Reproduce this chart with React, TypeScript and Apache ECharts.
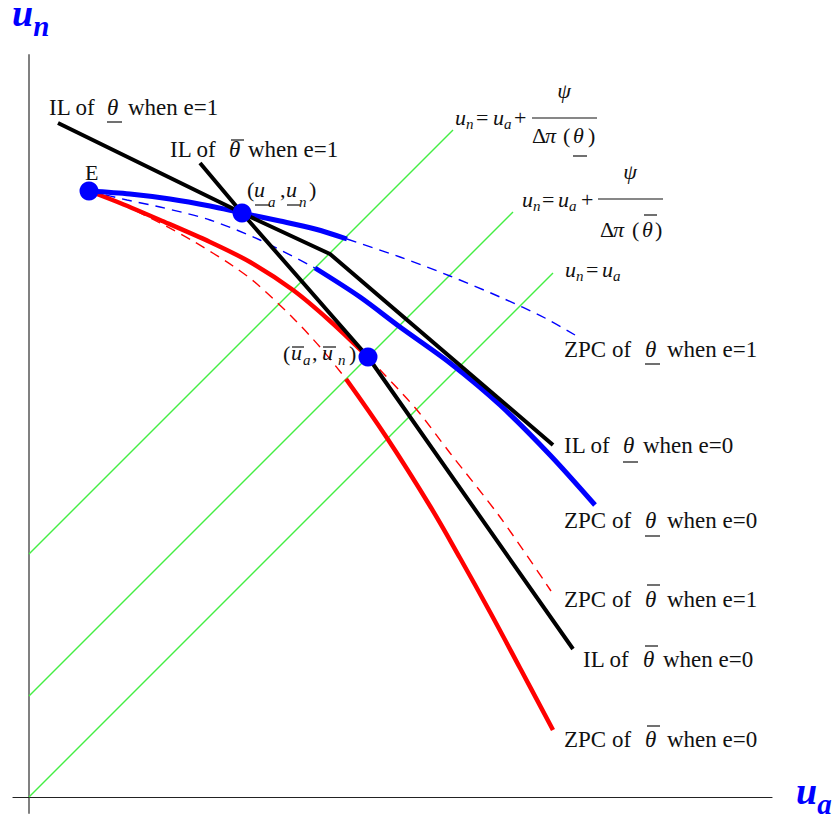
import React, { useEffect, useRef } from "react";
import * as echarts from "echarts";

// ---- data (u_a, u_n) in chart units ----
const greenOffsets = [0, 101, 243];
const greenEndX = [524, 484, 424];

const pointE = [60, 606];
const pointUnder = [213, 584];
const pointBar = [339, 440];

const blueUpperSolid = [[60, 606], [101, 603], [141, 598], [181, 591], [213, 584], [251, 576], [286, 568], [318, 558]];
const blueUpperDashed = [[318, 558], [371, 540], [421, 521], [471, 500], [516, 479], [546, 462]];
const blueLowerDashed = [[60, 606], [98, 597], [131, 590], [181, 577], [231, 557], [286, 529]];
const blueLowerSolid = [[286, 529], [331, 500], [371, 470], [421, 434], [471, 392], [521, 342], [566, 292]];

const redUpperSolid = [[60, 606], [91, 594], [131, 577], [181, 555], [221, 535], [264, 507], [301, 476], [339, 440]];
const redUpperDashed = [[339, 440], [354, 424], [388, 387], [421, 344], [471, 280], [522, 206]];
const redLowerDashed = [[60, 606], [81, 598], [101, 589], [131, 574], [164, 556], [204, 531], [228, 513], [264, 479], [291, 450], [317, 418]];
const redLowerSolid = [[317, 418], [358, 359], [401, 291], [431, 239], [461, 185], [491, 129], [524, 67]];

const ilUnderE1 = [[29, 674], [213, 584], [301, 543], [524, 352]];
const ilBarE1 = [[171, 634], [213, 584], [339, 440], [544, 148]];

const SERIF = '"Liberation Serif", "Times New Roman", serif';

function fontStr(size: number, italic?: boolean, bold?: boolean) {
  return `${italic ? "italic " : ""}${bold ? "bold " : ""}${size}px ${SERIF}`;
}

function txt(s: string, x: number, base: number, size: number, opt: any = {}) {
  const style: any = {
    text: s,
    fill: opt.fill || "#111",
    font: fontStr(size, opt.italic, opt.bold),
    align: opt.align || "left",
    textAlign: opt.align || "left",
    verticalAlign: "middle",
    textVerticalAlign: "middle",
  };
  return { type: "text", x, y: base - size * 0.33, style, z: 100 };
}

function axisTitle(main: string, sub: string, x: number, bottom: number) {
  const common = { fontFamily: SERIF, fontStyle: "italic", fontWeight: "bold", fill: "#0000ff", verticalAlign: "bottom" };
  return {
    type: "text",
    x,
    y: bottom,
    z: 100,
    style: {
      text: `{m|${main}}{s|${sub}}`,
      align: "left",
      verticalAlign: "bottom",
      rich: {
        m: { ...common, fontSize: 38, lineHeight: 27, padding: [0, 0, 8, 0] },
        s: { ...common, fontSize: 29, lineHeight: 25 },
      },
    },
  };
}

function bar(x1: number, x2: number, y: number, w = 1.2) {
  return { type: "line", shape: { x1, y1: y, x2, y2: y }, style: { stroke: "#111", lineWidth: w }, z: 100 };
}

const FS = 23;
function thetaLabel(prefix: string, x: number, thX: number, sufX: number, suffix: string, base: number, under: boolean, barY: number) {
  return [
    txt(prefix, x, base, FS),
    txt("θ", thX, base, FS, { italic: true }),
    bar(thX + (under ? 0 : 2), thX + 15, barY),
    txt(suffix, sufX, base, FS),
  ];
}

function buildGraphics() {
  const g: any[] = [];
  // axis titles
  g.push(axisTitle("u", "n", 12, 40));
  g.push(axisTitle("u", "a", 796, 818));

  // left labels
  g.push(...thetaLabel("IL of", 49, 107, 128, "when e=1", 115, true, 122));
  g.push(...thetaLabel("IL of", 170, 229, 248, "when e=1", 157, false, 140));
  g.push(txt("E", 85, 180, 22));

  // (u_a, u_n) underlined
  g.push(txt("(", 247, 197, 22));
  g.push(txt("u", 254, 197, 22, { italic: true }));
  g.push(txt("a", 268, 207, 15, { italic: true }));
  g.push(txt(",", 280, 197, 22));
  g.push(txt("u", 286, 197, 22, { italic: true }));
  g.push(txt("n", 299, 207, 15, { italic: true }));
  g.push(txt(")", 309, 197, 22));
  g.push(bar(255, 270, 205));
  g.push(bar(287, 300, 205));

  // (ū_a, ū_n)
  g.push(txt("(", 283, 361, 22));
  g.push(txt("u", 291, 360, 22, { italic: true }));
  g.push(txt("a", 303, 365, 15, { italic: true }));
  g.push(txt(",", 312, 360, 22));
  g.push(txt("u", 322, 360, 22, { italic: true }));
  g.push(txt("n", 338, 365, 15, { italic: true }));
  g.push(txt(")", 349, 361, 22));
  g.push(bar(292, 304, 347));
  g.push(bar(323, 336, 347));

  // formula 1
  g.push(txt("u", 455, 125, 22, { italic: true }));
  g.push(txt("n", 466, 129, 15, { italic: true }));
  g.push(txt("=", 476, 125, 22));
  g.push(txt("u", 493, 125, 22, { italic: true }));
  g.push(txt("a", 504, 129, 15, { italic: true }));
  g.push(txt("+", 514, 125, 22));
  g.push(bar(532, 597, 118));
  g.push(txt("ψ", 564, 98, 22, { italic: true, align: "center" }));
  g.push(txt("Δ", 532, 143, 22));
  g.push(txt("π", 545, 143, 22, { italic: true }));
  g.push(txt("(", 563, 143, 22));
  g.push(txt("θ", 573, 143, 22, { italic: true }));
  g.push(txt(")", 588, 143, 22));
  g.push(bar(573, 587, 156));

  // formula 2
  g.push(txt("u", 522, 207, 22, { italic: true }));
  g.push(txt("n", 533, 211, 15, { italic: true }));
  g.push(txt("=", 542, 207, 22));
  g.push(txt("u", 558, 207, 22, { italic: true }));
  g.push(txt("a", 569, 211, 15, { italic: true }));
  g.push(txt("+", 581, 207, 22));
  g.push(bar(598, 663, 199));
  g.push(txt("ψ", 630, 179, 22, { italic: true, align: "center" }));
  g.push(txt("Δ", 600, 237, 22));
  g.push(txt("π", 613, 237, 22, { italic: true }));
  g.push(txt("(", 632, 237, 22));
  g.push(txt("θ", 642, 237, 22, { italic: true }));
  g.push(txt(")", 655, 237, 22));
  g.push(bar(644, 657, 215));

  // formula 3
  g.push(txt("u", 565, 277, 22, { italic: true }));
  g.push(txt("n", 576, 281, 15, { italic: true }));
  g.push(txt("=", 586, 277, 22));
  g.push(txt("u", 602, 277, 22, { italic: true }));
  g.push(txt("a", 613, 281, 15, { italic: true }));

  // right labels
  g.push(...thetaLabel("ZPC of", 564, 645, 667, "when e=1", 357, true, 364));
  g.push(...thetaLabel("IL of", 564, 623, 643, "when e=0", 453, true, 462));
  g.push(...thetaLabel("ZPC of", 564, 645, 667, "when e=0", 528, true, 536));
  g.push(...thetaLabel("ZPC of", 564, 645, 667, "when e=1", 607, false, 585));
  g.push(...thetaLabel("IL of", 583, 643, 663, "when e=0", 667, false, 646));
  g.push(...thetaLabel("ZPC of", 564, 645, 667, "when e=0", 747, false, 726));
  return g;
}

function lineSeries(data: number[][], color: string, width: number, dashed: boolean, smooth: boolean | number, z: number) {
  return {
    type: "line",
    data,
    showSymbol: false,
    symbol: "none",
    smooth,
    silent: true,
    z,
    lineStyle: { color, width, type: dashed ? [10, 7] : "solid", cap: "butt" },
  };
}

export default function App() {
  const ref = useRef<HTMLDivElement>(null);
  useEffect(() => {
    const chart = echarts.init(ref.current!, null, { renderer: "svg" });
    const series: any[] = [];
    greenOffsets.forEach((off, i) => {
      series.push(lineSeries([[0, off], [greenEndX[i], off + greenEndX[i]]], "#44ee44", 1.4, false, false, 1));
    });
    series.push(lineSeries(blueUpperDashed, "#0000ff", 1.4, true, 0.3, 2));
    series.push(lineSeries(blueLowerDashed, "#0000ff", 1.4, true, 0.3, 2));
    series.push(lineSeries(redUpperDashed, "#ff0000", 1.4, true, 0.3, 2));
    series.push(lineSeries(redLowerDashed, "#ff0000", 1.4, true, 0.3, 2));
    series.push(lineSeries(redUpperSolid, "#ff0000", 4.5, false, 0.3, 3));
    series.push(lineSeries(redLowerSolid, "#ff0000", 4.5, false, 0.4, 3));
    series.push(lineSeries(blueUpperSolid, "#0000ff", 5, false, 0.3, 4));
    series.push(lineSeries(blueLowerSolid, "#0000ff", 5, false, 0.3, 4));
    series.push(lineSeries(ilUnderE1, "#000000", 4, false, false, 5));
    series.push(lineSeries(ilBarE1, "#000000", 4, false, false, 5));
    series.push({
      type: "scatter",
      data: [pointE, pointUnder, pointBar],
      symbolSize: 19,
      itemStyle: { color: "#0000ff", opacity: 1 },
      z: 6,
      silent: true,
    });
    chart.setOption({
      animation: false,
      backgroundColor: "#ffffff",
      grid: { left: 13, right: 65, top: 55, bottom: 6 },
      xAxis: {
        type: "value",
        min: -16,
        max: 743,
        axisLine: { show: true, onZero: true, lineStyle: { color: "#222222", width: 1.2 } },
        axisTick: { show: false },
        axisLabel: { show: false },
        splitLine: { show: false },
      },
      yAxis: {
        type: "value",
        min: -16,
        max: 742,
        axisLine: { show: true, onZero: true, lineStyle: { color: "#808080", width: 2 } },
        axisTick: { show: false },
        axisLabel: { show: false },
        splitLine: { show: false },
      },
      series,
      graphic: buildGraphics(),
    });
    return () => chart.dispose();
  }, []);
  return <div ref={ref} style={{ position: "fixed", left: 0, top: 0, width: 837, height: 819 }} />;
}
